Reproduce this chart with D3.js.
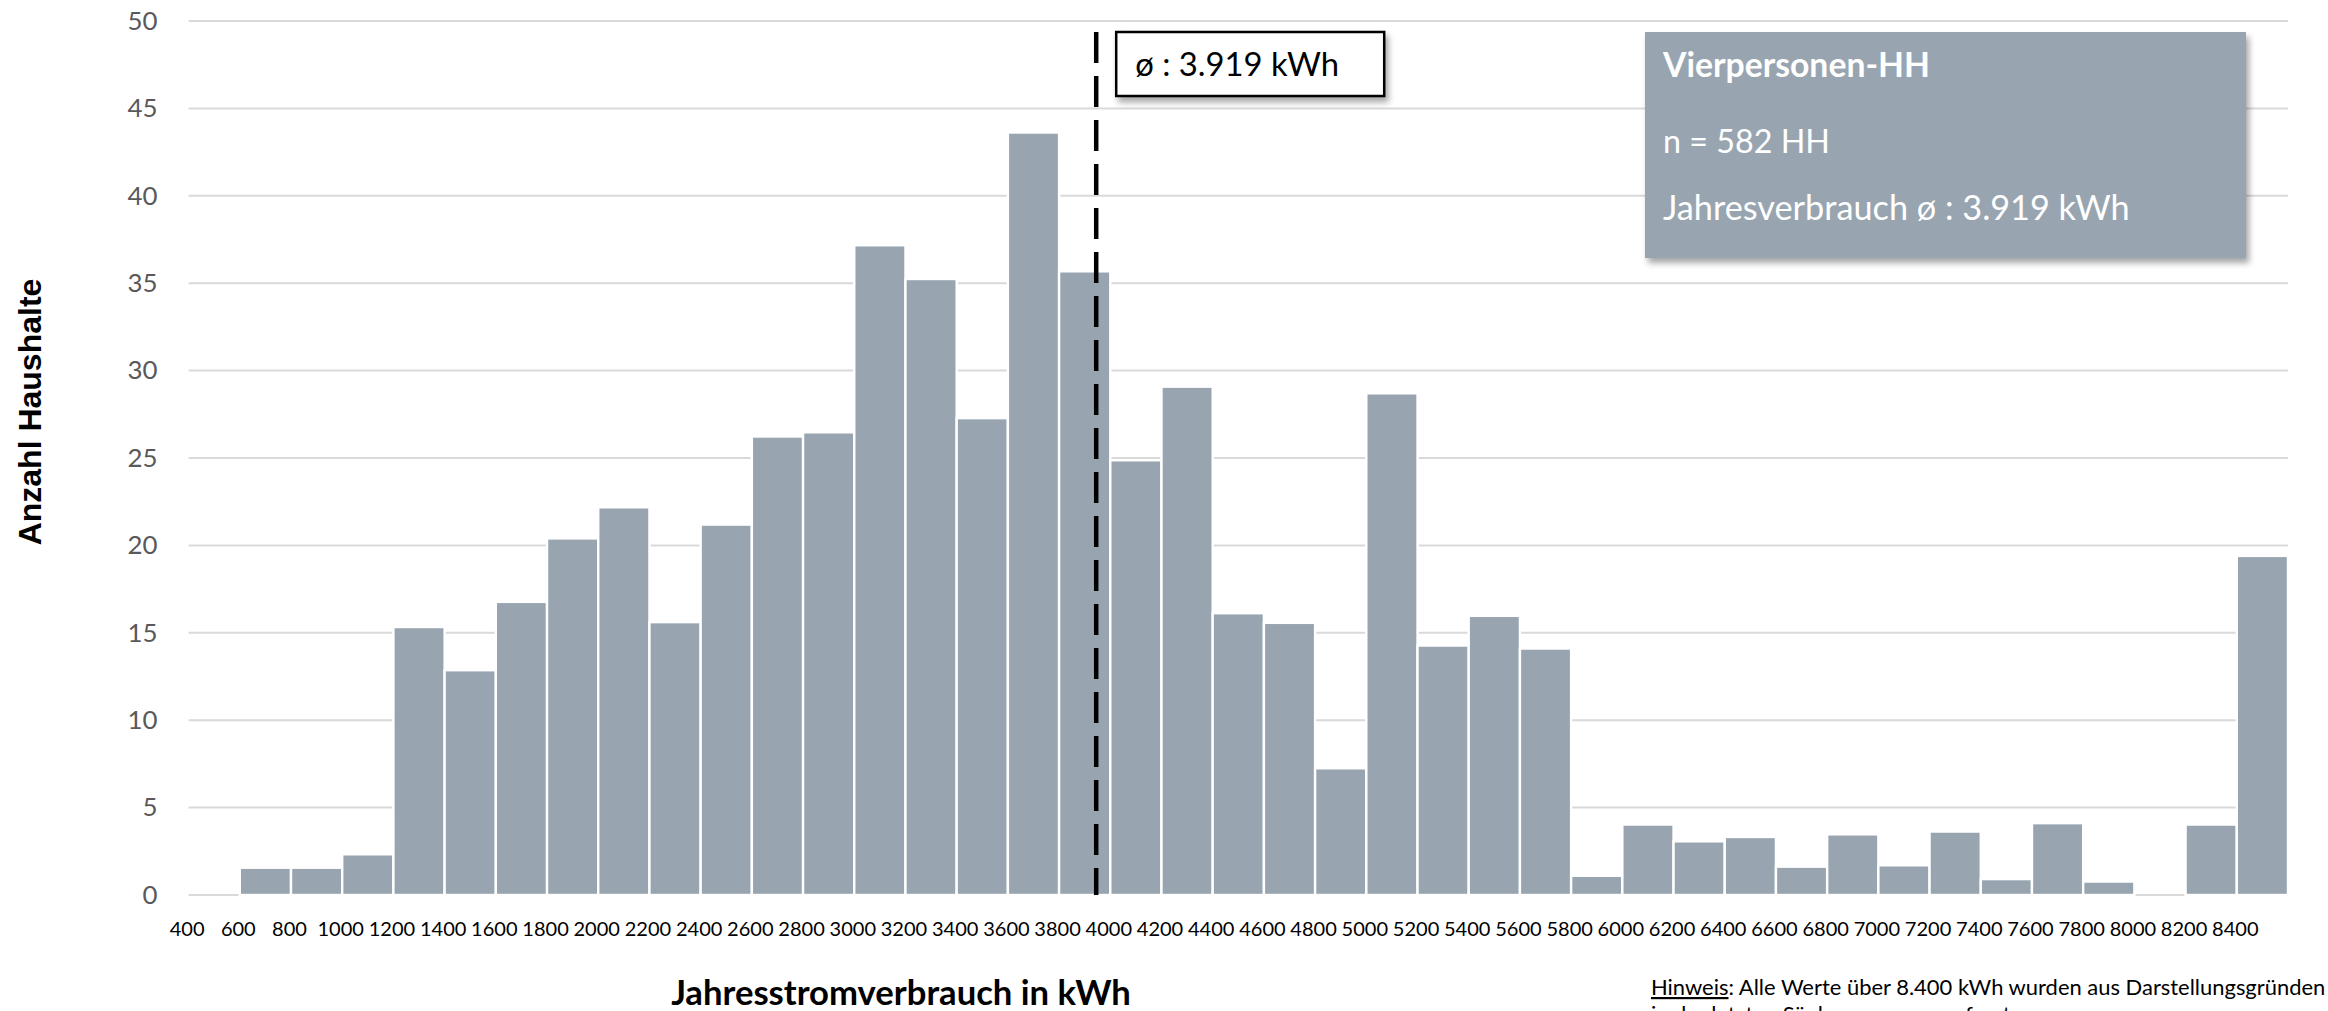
<!DOCTYPE html>
<html>
<head>
<meta charset="utf-8">
<script src="https://cdn.jsdelivr.net/npm/d3@7"></script>
<style>
  html, body { margin: 0; padding: 0; background: #fff; }
  svg { display: block; }
</style>
</head>
<body>
<svg id="chart" width="2328" height="1011"></svg>
<script>
// ---------- data ----------
const categories = [400, 600, 800, 1000, 1200, 1400, 1600, 1800, 2000, 2200, 2400, 2600, 2800,
  3000, 3200, 3400, 3600, 3800, 4000, 4200, 4400, 4600, 4800, 5000, 5200, 5400, 5600, 5800,
  6000, 6200, 6400, 6600, 6800, 7000, 7200, 7400, 7600, 7800, 8000, 8200, 8400];
const households = [0, 1.56, 1.56, 2.33, 15.33, 12.86, 16.77, 20.4, 22.18, 15.61, 21.19, 26.23, 26.47,
  37.17, 35.24, 27.28, 43.62, 35.68, 24.87, 29.08, 16.12, 15.57, 7.25, 28.70, 14.27, 15.97, 14.10, 1.10,
  4.03, 3.07, 3.32, 1.62, 3.47, 1.70, 3.63, 0.91, 4.11, 0.77, 0, 4.03, 19.4];
const binWidth = 200;
const yTickValues = [0, 5, 10, 15, 20, 25, 30, 35, 40, 45, 50];
const xTickLabels = categories.map(String);
const meanLinePosition = 3945;   // where the dashed mean line is drawn
const meanLabel = "ø : 3.919 kWh";
const infoTitle = "Vierpersonen-HH";
const infoLines = ["n = 582 HH", "Jahresverbrauch ø : 3.919 kWh"];
const yTitle = "Anzahl Haushalte";
const xTitle = "Jahresstromverbrauch in kWh";
const noteLabel = "Hinweis";
const noteLine1 = ": Alle Werte über 8.400 kWh wurden aus Darstellungsgründen";
const noteLine2 = "in der letzten Säule zusammengefasst.";

// ---------- layout ----------
const svg = d3.select("#chart");
const plotLeft = 188.6, plotRight = 2288, plotTop = 21, plotBottom = 895;
const barColor = "#98A5B0";
const sansFont = "Lato, 'Open Sans', sans-serif";

const x = d3.scaleLinear().domain([categories[0], categories[categories.length - 1] + binWidth])
  .range([plotLeft, plotRight]);
const y = d3.scaleLinear().domain([0, 50]).range([plotBottom, plotTop]);

function fitWidth(sel, target) {
  const w = sel.node().getComputedTextLength();
  const fs = parseFloat(sel.attr("font-size"));
  if (w > 0) sel.attr("font-size", fs * target / w);
  return sel;
}
// font size that gives a sample string a given width
function sizeFor(sample, family, weight, target) {
  const t = svg.append("text").attr("font-family", family).attr("font-weight", weight)
    .attr("font-size", 100).text(sample);
  const w = t.node().getComputedTextLength();
  t.remove();
  return w > 0 ? 100 * target / w : 20;
}

// shadow filter
const defs = svg.append("defs");
const f = defs.append("filter").attr("id", "shadow").attr("x", "-10%").attr("y", "-10%")
  .attr("width", "130%").attr("height", "140%");
f.append("feDropShadow").attr("dx", 3).attr("dy", 5).attr("stdDeviation", 3)
  .attr("flood-color", "#000").attr("flood-opacity", 0.35);

// gridlines
svg.append("g").selectAll("line").data(yTickValues).join("line")
  .attr("x1", plotLeft).attr("x2", plotRight)
  .attr("y1", d => y(d)).attr("y2", d => y(d))
  .attr("stroke", "#D9D9D9").attr("stroke-width", 2);

// bars
svg.append("g").selectAll("rect")
  .data(categories.map((c, i) => ({ c, v: households[i] })).filter(d => d.v > 0))
  .join("rect")
  .attr("x", d => x(d.c))
  .attr("width", d => x(d.c + binWidth) - x(d.c))
  .attr("y", d => y(d.v))
  .attr("height", d => y(0) - y(d.v))
  .attr("fill", barColor)
  .attr("stroke", "#fff")
  .attr("stroke-width", 2.4);

// y axis
const yFs = sizeFor("20", sansFont, "normal", 30);
const yAxis = svg.append("g").attr("transform", `translate(${plotLeft},0)`)
  .call(d3.axisLeft(y).tickValues(yTickValues).tickSize(0).tickPadding(31));
yAxis.select(".domain").remove();
yAxis.selectAll("text").attr("font-family", sansFont).attr("font-size", yFs).attr("fill", "#595959");

// x axis (labels on bin boundaries)
const xFs = sizeFor("1000", sansFont, "normal", 46.5);
const xAxis = svg.append("g").attr("transform", `translate(0,${plotBottom})`)
  .call(d3.axisBottom(x).tickValues(categories).tickFormat((d, i) => xTickLabels[i])
    .tickSize(0).tickPadding(0));
xAxis.select(".domain").remove();
xAxis.selectAll("text").attr("font-family", sansFont).attr("font-size", xFs).attr("fill", "#000")
  .attr("dy", null).attr("y", 936 - plotBottom).attr("dx", -2);

// mean line
const boxTop = 32;
svg.append("line")
  .attr("x1", x(meanLinePosition)).attr("x2", x(meanLinePosition))
  .attr("y1", boxTop).attr("y2", y(0))
  .attr("stroke", "#000").attr("stroke-width", 4.5).attr("stroke-dasharray", "31,13");

// mean label box
const lbX = x(meanLinePosition) + 20;
svg.append("rect").attr("x", lbX).attr("y", boxTop).attr("width", 268).attr("height", 64)
  .attr("fill", "#fff").attr("stroke", "#000").attr("stroke-width", 2.5)
  .attr("filter", "url(#shadow)");
fitWidth(svg.append("text").attr("x", lbX + 19).attr("y", 76)
  .attr("font-family", sansFont).attr("font-size", 30).attr("fill", "#000")
  .text(meanLabel), 204);

// info box
svg.append("rect").attr("x", 1645).attr("y", boxTop).attr("width", 601).attr("height", 226)
  .attr("fill", barColor).attr("filter", "url(#shadow)");
fitWidth(svg.append("text").attr("x", 1663).attr("y", 77)
  .attr("font-family", sansFont).attr("font-weight", "bold").attr("font-size", 30)
  .attr("fill", "#fff").text(infoTitle), 267);
fitWidth(svg.append("text").attr("x", 1663).attr("y", 153)
  .attr("font-family", sansFont).attr("font-size", 30)
  .attr("fill", "#fff").text(infoLines[0]), 167);
fitWidth(svg.append("text").attr("x", 1663).attr("y", 220)
  .attr("font-family", sansFont).attr("font-size", 30)
  .attr("fill", "#fff").text(infoLines[1]), 467);

// axis titles
svg.append("text").attr("transform", "translate(41,412) rotate(-90)")
  .attr("text-anchor", "middle").attr("font-family", "'Liberation Sans', Arial, sans-serif")
  .attr("font-weight", "bold").attr("font-size", 32).attr("fill", "#000").text(yTitle);
fitWidth(svg.append("text").attr("x", 901).attr("y", 1005).attr("text-anchor", "middle")
  .attr("font-family", sansFont).attr("font-weight", "bold").attr("font-size", 34)
  .attr("fill", "#000").text(xTitle), 460);

// footnote
const note = svg.append("text").attr("x", 1651).attr("y", 995)
  .attr("font-family", sansFont).attr("font-size", 22).attr("fill", "#000");
note.append("tspan").attr("text-decoration", "underline").text(noteLabel);
note.append("tspan").text(noteLine1);
fitWidth(note, 675);
const noteFs = parseFloat(note.attr("font-size"));
svg.append("text").attr("x", 1651).attr("y", 995 + noteFs * 1.22)
  .attr("font-family", sansFont).attr("font-size", noteFs).attr("fill", "#000").text(noteLine2);
</script>
</body>
</html>
